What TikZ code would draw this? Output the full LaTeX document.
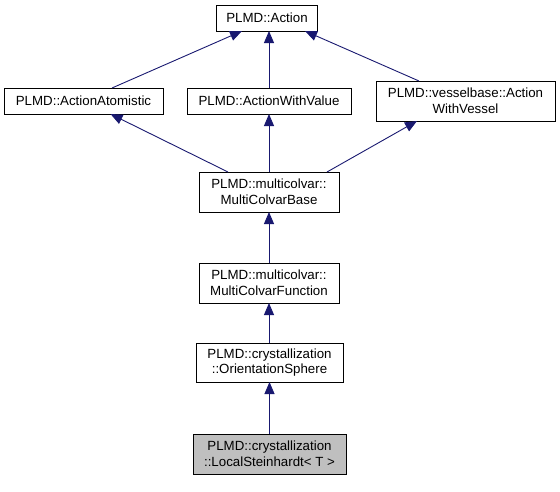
\documentclass[tikz,border=0pt]{standalone}
\usepackage{fontspec}
\setmainfont{Liberation Sans}
\usepackage{tikz}
\usetikzlibrary{arrows.meta}
\definecolor{edgeblue}{RGB}{25,25,112}
\definecolor{cellgray}{RGB}{191,191,191}
\tikzset{
  cls/.style={draw=black, line width=0.9pt, fill=white, inner sep=1pt, outer sep=0pt,
    align=center, font=\fontsize{13.3}{15.6}\selectfont},
  isa/.style={draw=edgeblue, line width=0.9pt, {Triangle[length=12pt,width=10pt]}-}
}

\begin{document}
\begin{tikzpicture}[x=1pt, y=-1pt]
        \useasboundingbox (0,0) rectangle (560,491);
        % top
        \node[cls, minimum width=101pt, minimum height=26pt] (action) at (267,18) {PLMD::Action};
        % row 2
        \node[cls, minimum width=159pt, minimum height=26pt] (atomistic) at (83.5,101) {PLMD::ActionAtomistic};
        \node[cls, minimum width=164pt, minimum height=26pt] (withvalue) at (269,101) {PLMD::ActionWithValue};
        \node[cls, minimum width=179pt, minimum height=40pt] (vessel) at (465.5,101) {PLMD::vesselbase::Action\\WithVessel};
        % middle
        \node[cls, minimum width=140pt, minimum height=40pt] (base) at (269,192) {PLMD::multicolvar::\\MultiColvarBase};
        \node[cls, minimum width=140pt, minimum height=40pt] (function) at (269,283) {PLMD::multicolvar::\\MultiColvarFunction};
        \node[cls, minimum width=147pt, minimum height=39pt] (sphere) at (269.5,362.5) {PLMD::crystallization\\::OrientationSphere};
        % bottom
        \node[cls, fill=cellgray, minimum width=153pt, minimum height=40pt] (steinhardt) at (269.5,454) {PLMD::crystallization\\::LocalSteinhardt< T >};
        % edges
        \draw[isa] ([xshift=-25pt]action.south) -- ([xshift=28.5pt]atomistic.north);
        \draw[isa] (action.south -| withvalue.north) -- (withvalue.north);
        \draw[isa] ([xshift=38pt]action.south) -- ([xshift=-46.5pt]vessel.north);
        \draw[isa] ([xshift=27pt]atomistic.south) -- ([xshift=-41pt]base.north);
        \draw[isa] (withvalue.south) -- (base.north);
        \draw[isa] ([xshift=-48.5pt]vessel.south) -- ([xshift=58pt]base.north);
        \draw[isa] (base.south) -- (function.north);
        \draw[isa] (function.south) -- (sphere.north -| function.south);
        \draw[isa] (sphere.south -| steinhardt.north) -- (steinhardt.north);
\end{tikzpicture}
\end{document}
